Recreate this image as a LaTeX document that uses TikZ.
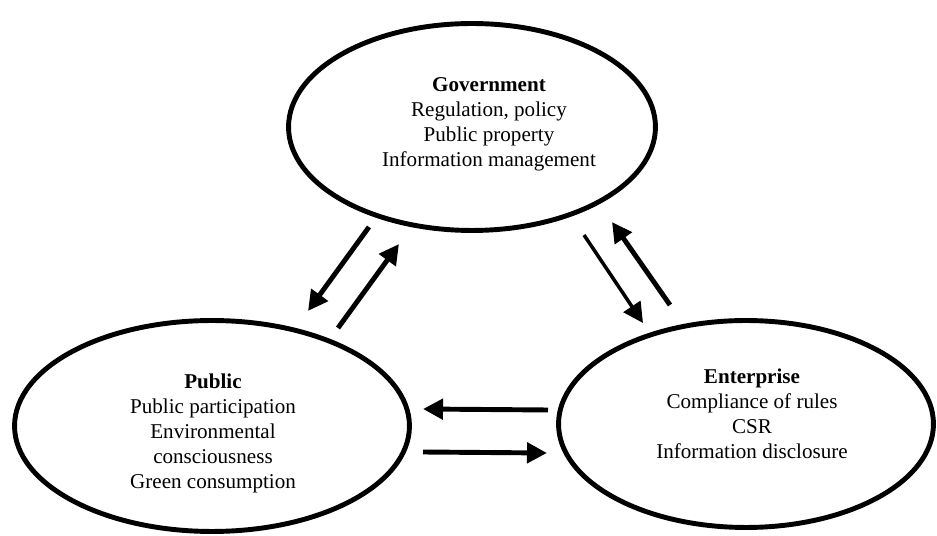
\documentclass[tikz,border=0pt]{standalone}
\usepackage{fontspec}
\setmainfont{Liberation Serif}
\usetikzlibrary{shapes.geometric,arrows.meta}

\tikzset{
  actor/.style={draw,ellipse,line width=2.8pt,inner sep=0pt},
  roletext/.style={align=center,inner sep=0pt,anchor=north,font=\fontsize{12}{14.2}\selectfont},
  link/.style={line width=2.8pt,-{Triangle[length=0.4cm,width=0.4cm]}}
}

\begin{document}
\begin{tikzpicture}[x=0.02cm,y=-0.02cm]
      \useasboundingbox (0,0) rectangle (937,536);

      \node[actor,minimum width=7.34cm,minimum height=4.14cm] (gov) at (472,127) {};
      \node[actor,minimum width=7.9cm,minimum height=4.22cm] (pub) at (212,426) {};
      \node[actor,minimum width=7.5cm,minimum height=4.14cm] (ent) at (746,424) {};

      \node[roletext] (govtext) at (489,77.5) {\textbf{Government}\\ Regulation, policy\\ Public property\\ Information management};
      \node[roletext] (pubtext) at (213,373.5) {\textbf{Public}\\ Public participation\\ Environmental\\ consciousness\\ Green consumption};
      \node[roletext] (enttext) at (752,368.5) {\textbf{Enterprise}\\ Compliance of rules\\ CSR\\ Information disclosure};

      % government <-> public
      \coordinate (gp1) at (369,227); \coordinate (gp2) at (308,311);
      \coordinate (pg1) at (338,328); \coordinate (pg2) at (399,244);
      \draw[link] (gp1) -- (gp2);
      \draw[link] (pg1) -- (pg2);

      % government <-> enterprise
      \coordinate (ge1) at (584,235); \coordinate (ge2) at (643,323);
      \coordinate (eg1) at (670,305); \coordinate (eg2) at (612,222);
      \draw[link,line width=2pt] (ge1) -- (ge2);
      \draw[link] (eg1) -- (eg2);

      % enterprise <-> public
      \coordinate (ep1) at (548,410); \coordinate (ep2) at (423,409);
      \coordinate (pe1) at (423,452); \coordinate (pe2) at (547,453);
      \draw[link] (ep1) -- (ep2);
      \draw[link] (pe1) -- (pe2);
\end{tikzpicture}
\end{document}
